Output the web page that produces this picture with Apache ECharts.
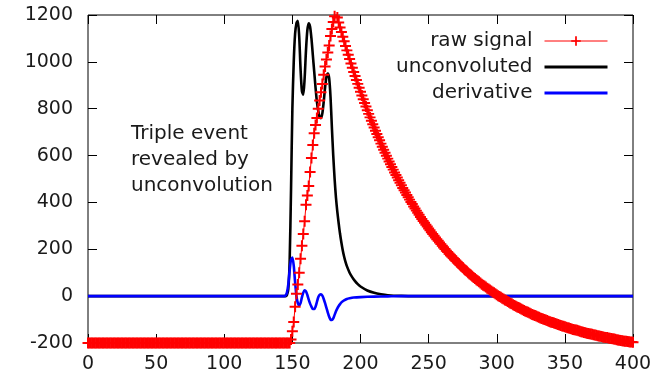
<!DOCTYPE html>
<html>
<head>
<meta charset="utf-8">
<script src="https://cdn.jsdelivr.net/npm/echarts@6/dist/echarts.min.js"></script>
<style>
html,body{margin:0;padding:0;background:#fff;}
#c{width:665px;height:382px;}
</style>
</head>
<body>
<div id="c"></div>
<script>
// ---- data ----
const seriesNames = ['raw signal', 'unconvoluted', 'derivative'];
const annotation = ['Triple event', 'revealed by', 'unconvolution'];
const xTicks = { min: 0, max: 400, step: 50 };
const yTicks = { min: -200, max: 1200, step: 200 };

const rawX = [0,1,2,3,4,5,6,7,8,9,10,11,12,13,14,15,16,17,18,19,20,21,22,23,24,25,26,27,28,29,30,31,32,33,34,35,36,37,38,39,40,41,42,43,44,45,46,47,48,49,
50,51,52,53,54,55,56,57,58,59,60,61,62,63,64,65,66,67,68,69,70,71,72,73,74,75,76,77,78,79,80,81,82,83,84,85,86,87,88,89,90,91,92,93,94,95,96,97,98,99,
100,101,102,103,104,105,106,107,108,109,110,111,112,113,114,115,116,117,118,119,120,121,122,123,124,125,126,127,128,129,130,131,132,133,134,135,136,137,138,139,140,141,142,143,144,145,146,147,148,
149,150,151,152,153,154,155,156,157,158,159,160,161,162,163,164,165,166,167,168,169,170,171,172,173,174,175,176,177,178,179,180,181,182,
183,184,185,186,187,188,189,190,191,192,193,194,195,196,197,198,199,200,201,202,203,204,205,206,207,208,209,210,211,212,213,214,215,216,217,218,219,220,
221,222,223,224,225,226,227,228,229,230,231,232,233,234,235,236,237,238,239,240,241,242,243,244,245,246,247,248,249,250,251,252,253,254,255,256,257,258,259,260,
261,262,263,264,265,266,267,268,269,270,271,272,273,274,275,276,277,278,279,280,281,282,283,284,285,286,287,288,289,290,291,292,293,294,295,296,297,298,299,300,
301,302,303,304,305,306,307,308,309,310,311,312,313,314,315,316,317,318,319,320,321,322,323,324,325,326,327,328,329,330,331,332,333,334,335,336,337,338,339,340,
341,342,343,344,345,346,347,348,349,350,351,352,353,354,355,356,357,358,359,360,361,362,363,364,365,366,367,368,369,370,371,372,373,374,375,376,377,378,379,380,
381,382,383,384,385,386,387,388,389,390,391,392,393,394,395,396,397,398,399,400];
const rawY = [-200,-200,-200,-200,-200,-200,-200,-200,-200,-200,-200,-200,-200,-200,-200,-200,-200,-200,-200,-200,-200,-200,-200,-200,-200,-200,-200,-200,-200,-200,-200,-200,-200,-200,-200,-200,-200,-200,-200,-200,-200,-200,-200,-200,-200,-200,-200,-200,-200,-200,
-200,-200,-200,-200,-200,-200,-200,-200,-200,-200,-200,-200,-200,-200,-200,-200,-200,-200,-200,-200,-200,-200,-200,-200,-200,-200,-200,-200,-200,-200,-200,-200,-200,-200,-200,-200,-200,-200,-200,-200,-200,-200,-200,-200,-200,-200,-200,-200,-200,-200,
-200,-200,-200,-200,-200,-200,-200,-200,-200,-200,-200,-200,-200,-200,-200,-200,-200,-200,-200,-200,-200,-200,-200,-200,-200,-200,-200,-200,-200,-200,-200,-200,-200,-200,-200,-200,-200,-200,-200,-200,-200,-200,-200,-200,-200,-200,-200,-200,-200,
-185,-150,-110,-45,10,50,100,160,215,265,320,390,430,470,530,590,645,695,730,760,800,835,870,905,945,980,1010,1040,1070,1110,1140,1170,1195,1210,
1189,1168,1147,1127,1107,1088,1068,1049,1030,1012,993,975,957,940,923,906,889,872,856,840,824,809,793,778,763,749,734,720,706,692,678,665,651,638,625,612,599,587,
575,563,551,540,528,517,506,495,484,473,462,452,442,432,422,412,402,393,383,374,365,356,347,338,329,321,313,305,297,289,281,273,265,258,250,243,236,229,222,215,
208,201,194,188,181,175,169,163,157,151,145,139,133,128,122,116,111,106,100,95,90,85,80,75,70,66,61,56,51,47,43,39,34,30,26,22,18,14,10,6,
2,-2,-5,-9,-12,-16,-19,-23,-26,-30,-33,-37,-40,-43,-46,-49,-52,-55,-58,-61,-64,-67,-69,-72,-75,-78,-80,-83,-85,-88,-90,-93,-95,-98,-100,-102,-104,-107,-109,-111,
-113,-115,-117,-119,-121,-123,-125,-127,-129,-131,-133,-135,-136,-138,-140,-142,-143,-145,-146,-148,-150,-152,-153,-155,-156,-158,-159,-161,-162,-163,-165,-166,-167,-169,-170,-171,-172,-174,-175,-176,
-177,-179,-180,-181,-182,-183,-184,-186,-187,-188,-189,-190,-191,-192,-193,-194,-195,-196,-196,-197];

const uncX = [0,140,145,146,147,148,149,150,151,152,153,154,155,156,157,158,159,160,161,162,163,164,165,166,167,168,169,170,171,172,173,174,175,176,177,178,179,180,181,182,183,184,185,186,187,188,189,190,192,194,196,198,200,205,210,215,220,230,240,300,400];
const uncY = [0,0,0,5,30,150,450,800,1000,1120,1165,1175,1110,970,875,860,930,1050,1135,1165,1150,1100,1030,960,890,830,790,765,760,780,830,890,935,950,930,850,720,600,500,420,360,310,265,228,195,168,146,128,100,80,64,51,41,24,14,8,4,1,0,0,0];

const derX = [0,140,144,145,146,147,148,149,150,151,152,153,154,155,156,157,158,159,160,161,162,163,164,165,166,167,168,169,170,171,172,173,174,175,176,177,178,179,180,181,182,183,184,185,186,187,188,190,192,195,200,210,220,230,400];
const derY = [0,0,0,3,15,50,110,155,165,130,60,0,-30,-40,-30,-5,15,25,20,5,-15,-32,-45,-55,-55,-45,-25,-5,5,8,2,-12,-30,-50,-70,-88,-100,-102,-95,-80,-65,-52,-42,-34,-27,-22,-18,-12,-9,-6,-4,-2,-1,0,0];

const zip = (xs, ys) => xs.map((x, i) => [x, ys[i]]);

const FONT = 'DejaVu Sans';
const TXT = '#1a1a1a';
const plus = 'path://M0,4.1H10V5.9H0Z M4.1,0H5.9V10H4.1Z';

const chart = echarts.init(document.getElementById('c'), null, { renderer: 'canvas' });

const tick = { show: true, inside: true, length: 9, lineStyle: { color: '#000', width: 1 } };
const baseX = { type: 'value', min: xTicks.min, max: xTicks.max, interval: xTicks.step, splitLine: { show: false }, axisLine: { show: false, onZero: false }, axisTick: tick };
const baseY = { type: 'value', min: yTicks.min, max: yTicks.max, interval: yTicks.step, splitLine: { show: false }, axisLine: { show: false, onZero: false }, axisTick: tick };

chart.setOption({
  animation: false,
  backgroundColor: '#fff',
  grid: { left: 88, right: 32, top: 15, bottom: 39, show: true, borderColor: '#000', borderWidth: 1, backgroundColor: 'transparent' },
  xAxis: [
    Object.assign({}, baseX, {
      position: 'bottom',
      axisLabel: { show: true, margin: 12, color: TXT, fontFamily: FONT, fontSize: 19, formatter: v => String(v) }
    }),
    Object.assign({}, baseX, { position: 'top', axisLabel: { show: false } })
  ],
  yAxis: [
    Object.assign({}, baseY, {
      position: 'left',
      axisLabel: { show: true, margin: 15, color: TXT, fontFamily: FONT, fontSize: 19, formatter: v => String(v) }
    }),
    Object.assign({}, baseY, { position: 'right', axisLabel: { show: false } })
  ],
  legend: {
    orient: 'vertical',
    align: 'right',
    right: 51,
    top: 26,
    itemWidth: 63,
    itemHeight: 12,
    itemGap: 6,
    textStyle: { fontFamily: FONT, fontSize: 20, color: TXT, lineHeight: 20, padding: [0, 7, 0, 0] },
    data: [
      { name: seriesNames[0], lineStyle: { width: 1 } },
      { name: seriesNames[1], itemStyle: { opacity: 0 }, lineStyle: { width: 3 } },
      { name: seriesNames[2], itemStyle: { opacity: 0 }, lineStyle: { width: 3 } }
    ]
  },
  graphic: [{
    type: 'text',
    left: 131,
    top: 121,
    style: { text: annotation.join('\n'), font: '20px "DejaVu Sans"', fill: TXT, lineHeight: 26 }
  }],
  series: [
    {
      name: seriesNames[0], type: 'line', xAxisIndex: 0, yAxisIndex: 0,
      data: zip(rawX, rawY),
      symbol: plus, symbolSize: 11, showSymbol: true,
      lineStyle: { color: '#ff0000', width: 1 },
      itemStyle: { color: '#ff0000' },
      emphasis: { disabled: true }
    },
    {
      name: seriesNames[1], type: 'line', xAxisIndex: 0, yAxisIndex: 0,
      data: zip(uncX, uncY),
      symbol: 'none', smooth: 0.25,
      lineStyle: { color: '#000000', width: 2.6 },
      itemStyle: { color: '#000000' },
      emphasis: { disabled: true }
    },
    {
      name: seriesNames[2], type: 'line', xAxisIndex: 0, yAxisIndex: 0,
      data: zip(derX, derY),
      symbol: 'none', smooth: 0.25,
      lineStyle: { color: '#0000ff', width: 2.6 },
      itemStyle: { color: '#0000ff' },
      emphasis: { disabled: true }
    }
  ]
});
</script>
</body>
</html>
